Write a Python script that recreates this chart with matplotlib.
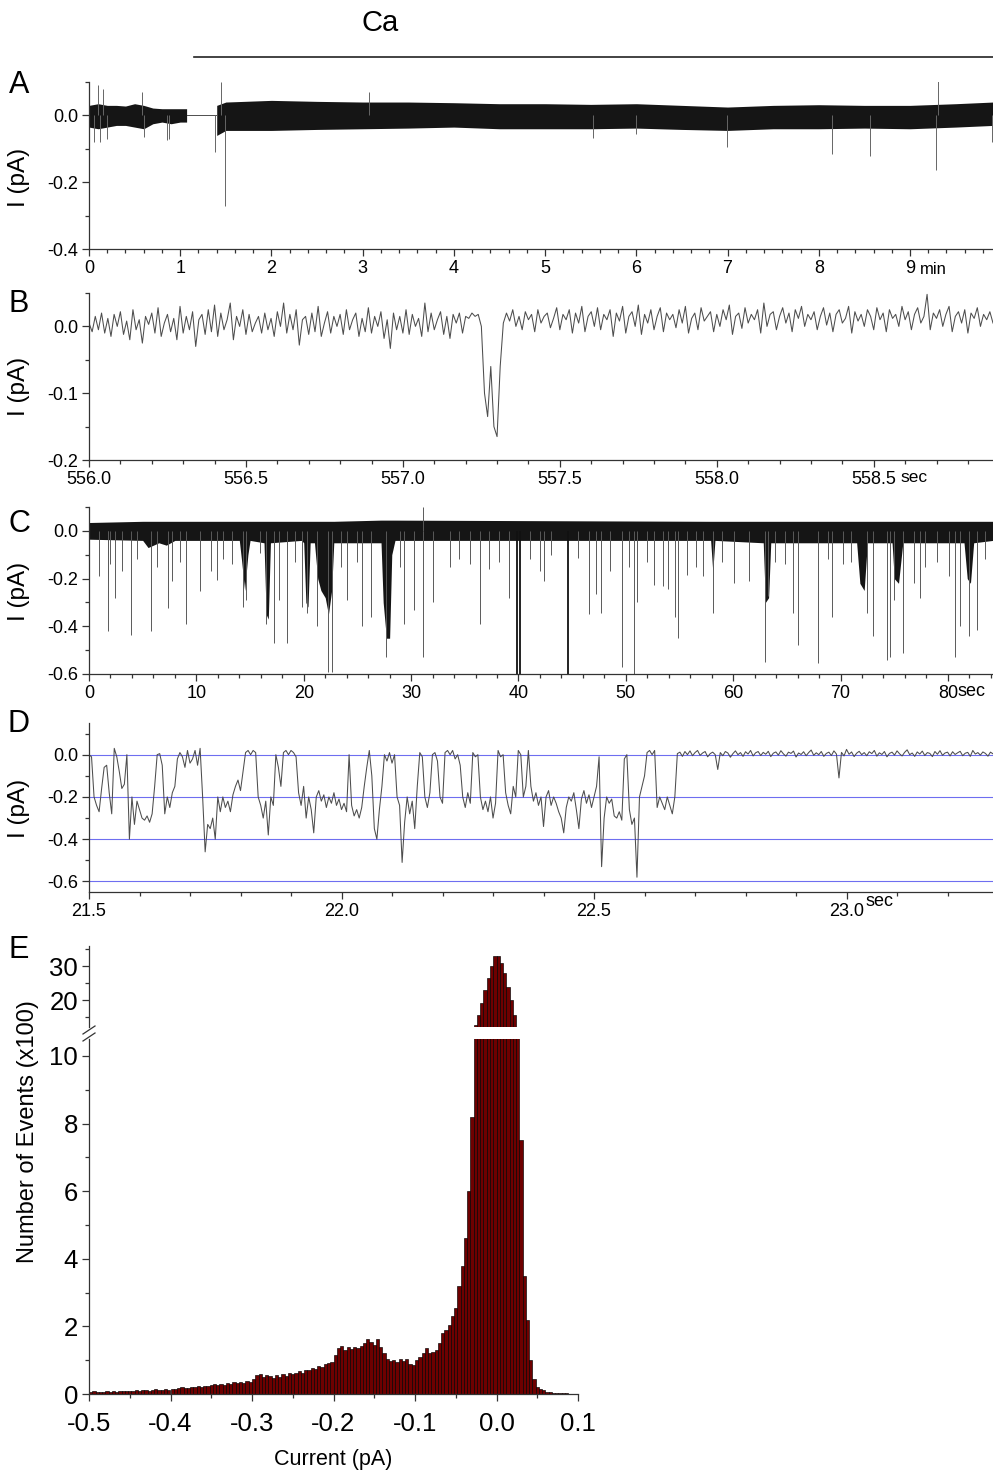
import numpy as np
import matplotlib
matplotlib.use('Agg')
import matplotlib.pyplot as plt
from matplotlib.lines import Line2D
from matplotlib.ticker import MultipleLocator

plt.rcParams['font.family'] = ['Liberation Sans', 'DejaVu Sans']

# ---------------- data ----------------
# A: long recording (min), noise band envelope + isolated spikes (pA)
a_seg1_t = [0, 0.1, 0.2, 0.3, 0.4, 0.5, 0.6, 0.7, 0.8, 0.9, 1.0, 1.07]
a_seg1_up = [0.03, 0.035, 0.03, 0.03, 0.028, 0.035, 0.03, 0.022, 0.02, 0.02, 0.02, 0.02]
a_seg1_lo = [-0.035, -0.04, -0.035, -0.03, -0.03, -0.035, -0.04, -0.025, -0.02, -0.025, -0.02, -0.02]
a_gap_t = [1.07, 1.40]
a_seg2_t = [1.4, 1.5, 2, 2.5, 3, 3.5, 4, 4.5, 5, 5.5, 6, 6.5, 7, 7.5, 8, 8.5, 9, 9.5, 9.91]
a_seg2_up = [0.03, 0.04, 0.045, 0.042, 0.04, 0.04, 0.038, 0.035, 0.035, 0.033, 0.035, 0.03,
             0.025, 0.03, 0.032, 0.03, 0.03, 0.035, 0.04]
a_seg2_lo = [-0.06, -0.045, -0.045, -0.042, -0.04, -0.038, -0.035, -0.04, -0.04, -0.04, -0.038,
             -0.042, -0.045, -0.04, -0.04, -0.038, -0.04, -0.035, -0.03]
a_spike_t = [0.05, 0.1, 0.12, 0.15, 0.2, 0.58, 0.6, 0.85, 0.88, 1.38, 1.45, 1.49, 3.07, 5.53,
             6.0, 6.99, 8.14, 8.56, 9.29, 9.31, 9.9]
a_spike_v = [-0.08, 0.09, -0.08, 0.08, -0.07, 0.07, -0.065, -0.075, -0.07, -0.11, 0.1, -0.27,
             0.07, -0.067, -0.055, -0.095, -0.115, -0.123, -0.164, 0.102, -0.08]

# B: 556.0 - 558.88 s, one sample every 10 ms (units of 0.001 pA)
b_t0, b_dt = 556.0, 0.01
b_vals = [5, -8, 15, -5, 20, -10, 12, -15, 18, 0, 22, -12, 8, -20, 25, -5, 10, -25, 15, 3,
          20, -10, 28, -15, 5, 18, -8, 12, -20, 30, -10, 15, -5, 22, -30, 10, 18, -12, 25, -8,
          32, -15, 20, -5, 10, 35, -20, 15, 0, 25, -12, 18, -8, 5, 15, -10, 20, -5, 12, -15,
          22, 0, 35, -10, 18, -5, 25, -28, 10, 15, -12, 20, -8, 30, -15, 5, 22, -10, 15, 0,
          18, -12, 25, -5, 10, 20, -15, 12, -8, 28, -10, 15, 0, 22, -18, 10, -33, 20, -5, 15,
          -10, 25, -12, 18, 0, 12, -15, 35, -8, 20, -5, 10, 22, -12, 15, -18, 18, 5, 20, -10,
          15, 12, 20, 15, 18,
          0, -100, -135, -60, -150, -165, -60, 5,
          20, 8, 25, 0, 15, -5, 22, 10, 18, -8, 25, 5, 15, 20, -2, 12, 28, -5, 18, 10,
          25, -10, 20, 5, 30, -8, 15, 22, 0, 28, -5, 18, 10, 25, -15, 20, 8, 30, -10, 15,
          22, 0, 32, -12, 18, 5, 25, -5, 15, 28, -8, 20, 10, 18, -2, 25, 5, 30, -10, 12,
          20, -5, 28, 8, 15, 22, -8, 18, 0, 25, 10, 32, -12, 15, 20, -3, 28, 5, 18, 10,
          25, -10, 35, 0, 18, 22, -5, 15, 28, 5, 20, -8, 25, 12, 30, 0, 18, 10, 22, -5,
          15, 28, 2, 20, -8, 18, 25, 5, 12, 30, -10, 22, 8, 18, 0, 25, 15, -5, 28, 10,
          20, -8, 25, 12, 18, 0, 30, 10, 22, -5, 18, 28, 5, 15, 48, -5, 20, 12, 25, 0,
          18, 30, -8, 15, 22, 5, 25, -10, 20, 12, 28, 0, 18, 10, 22, 5]

# C: 0 - 84 s, baseline band envelope + openings (pA)
c_env_t = [0, 5.0, 5.5, 6.5, 7.2, 8.0, 14.0, 14.2, 14.5, 14.8, 15.0, 16.3, 16.5, 16.7, 16.9,
           19.8, 20.0, 20.2, 20.4, 20.6, 21.0, 21.3, 21.6, 22.0, 22.3, 22.6, 22.8, 27.2, 27.4,
           27.7, 28.0, 28.2, 28.5, 57.9, 58.1, 58.3, 62.8, 63.0, 63.3, 63.5, 71.5, 71.8, 72.2,
           72.5, 74.8, 75.0, 75.4, 75.8, 81.5, 81.8, 82.1, 82.4, 84.2]
c_env_up = [0.035, 0.04, 0.04, 0.04, 0.04, 0.04, 0.04, 0.04, 0.04, 0.04, 0.04, 0.04, 0.04,
            0.04, 0.04, 0.04, 0.04, 0.04, 0.04, 0.04, 0.04, 0.04, 0.04, 0.04, 0.04, 0.04,
            0.04, 0.045, 0.045, 0.045, 0.045, 0.045, 0.045, 0.04, 0.04, 0.04, 0.04, 0.04, 0.04,
            0.04, 0.04, 0.04, 0.04, 0.04, 0.04, 0.04, 0.04, 0.04, 0.04, 0.04, 0.04, 0.04, 0.04]
c_env_lo = [-0.035, -0.04, -0.07, -0.05, -0.06, -0.04, -0.04, -0.12, -0.25, -0.1, -0.04, -0.05,
            -0.35, -0.37, -0.05, -0.04, -0.05, -0.3, -0.32, -0.05, -0.05, -0.2, -0.25, -0.28,
            -0.35, -0.25, -0.05, -0.05, -0.3, -0.45, -0.45, -0.1, -0.04, -0.04, -0.17, -0.04,
            -0.05, -0.3, -0.28, -0.05, -0.05, -0.22, -0.25, -0.05, -0.05, -0.2, -0.22, -0.05,
            -0.05, -0.2, -0.22, -0.05, -0.04]
c_spike_t = [0.9, 1.74, 1.8, 2.42, 3.1, 3.9, 5.74, 7.4, 7.7, 9.03, 10.3, 11.35, 11.9, 14.3,
             14.6, 15.9, 16.5, 17.2, 17.7, 18.4, 19.8, 20.3, 21.2, 22.3, 22.6, 24.0, 25.4,
             26.3, 27.7, 29.3, 30.3, 31.1, 32.0, 33.6, 36.4, 37.3, 39.1, 41.1, 42.0, 42.4,
             45.5, 46.6, 47.2, 47.7, 48.5, 49.6, 50.3, 50.75, 51.0, 52.6, 53.5, 53.9, 54.6,
             54.9, 55.7, 57.2, 58.1, 60.1, 61.5, 63.0, 63.2, 63.9, 65.6, 66.0, 67.9, 69.2,
             71.0, 72.5, 73.0, 74.3, 74.6, 75.0, 75.8, 76.8, 77.4, 80.1, 80.7, 81.1, 82.0, 82.7,
             2.0, 4.5, 6.3, 8.5, 12.5, 13.3, 19.2, 23.5, 25.0, 29.0, 34.5, 35.5, 38.2, 43.0,
             52.0, 56.5, 59.0, 64.8, 68.8, 70.2, 77.9, 79.0, 83.5]
c_spike_v = [-0.19, -0.205, -0.42, -0.28, -0.17, -0.435, -0.42, -0.325, -0.21, -0.39, -0.25,
             -0.17, -0.205, -0.32, -0.29, -0.094, -0.39, -0.47, -0.29, -0.47, -0.32, -0.345,
             -0.40, -0.59, -0.59, -0.29, -0.40, -0.36, -0.53, -0.39, -0.33, -0.53, -0.30,
             -0.15, -0.39, -0.16, -0.28, -0.12, -0.17, -0.21, -0.115, -0.35, -0.265, -0.345,
             -0.17, -0.57, -0.15, -0.6, -0.30, -0.225, -0.23, -0.245, -0.36, -0.45, -0.185,
             -0.19, -0.345, -0.22, -0.21, -0.55, -0.275, -0.13, -0.345, -0.48, -0.555, -0.36,
             -0.13, -0.345, -0.44, -0.54, -0.53, -0.29, -0.51, -0.22, -0.28, -0.19, -0.53,
             -0.40, -0.44, -0.415,
             -0.14, -0.12, -0.15, -0.13, -0.12, -0.14, -0.13, -0.15, -0.13, -0.15, -0.12,
             -0.14, -0.13, -0.10, -0.13, -0.15, -0.13, -0.14, -0.12, -0.14, -0.15, -0.13, -0.12]
c_block_t = [39.85, 40.1, 44.65]   # long openings, off scale
c_up_t, c_up_v = [31.1], [0.1]

# D: 21.5 - 23.29 s, one sample every 5 ms (units of 0.001 pA)
d_t0, d_dt = 21.5, 0.005
d_open = [0, -10, -200, -240, -270, -160, -60, -50, -180, -280,
          30, -10, -80, -160, -140, 0, -400, -200, -330, -220,
          -260, -300, -310, -290, -320, -280, -150, 0, 5, -50,
          -280, -200, -250, -180, -150, -20, 10, -10, -60, 20,
          -40, -20, 20, -50, 30, -200, -460, -330, -350, -300,
          -400, -200, -270, -200, -250, -220, -270, -190, -150, -120,
          -170, -80, 10, 20, 0, 20, 10, -200, -240, -300,
          -220, -380, -200, -240, 0, -60, -150, 10, 20, 0,
          20, 10, -10, -180, -240, -150, -300, -200, -260, -370,
          -200, -170, -220, -190, -250, -200, -230, -180, -240, -210,
          -260, -230, -270, 0, -240, -290, -260, -300, -250, -150,
          -60, 20, -100, -350, -400, -260, -150, 0, -30, 10,
          -40, 0, -200, -240, -510, -320, -200, -280, -220, -350,
          -150, 10, -10, -200, -250, -180, 0, 10, -30, -200,
          -230, 10, 20, 0, 20, -20, 0, -50, -200, -250,
          -180, -230, 10, -10, 0, -200, -260, -220, -270, -200,
          -300, -230, 20, -10, 0, -180, -240, -280, -150, -200,
          20, 0, -200, -150, 20, -150, -220, -180, -240, -200,
          -340, -200, -170, -240, -200, -230, -270, -300, -370, -250,
          -200, -220, -180, -260, -350, -210, -170, -230, -190, -250,
          -200, -150, -10, -530, -300, -200, -230, -210, -290, -300,
          -270, -310, -20, 0, -260, -330, -300, -580, -200, -150,
          -100, 10, 20, 0, 20, -250, -200, -230, -260, -200,
          -240, -280, -200]
d_closed = [5, 12, -8, 15, 0, 18, -5, 10, 20, -3, 8, 15, -10, 5, 12, 0, -70, 10, -5, 15,
            8, -12, 5, 18, 0, 10, -8, 14, 3, 20, -6, 9, 15, -4, 11, 2, 16, -9, 7, 13,
            -2, 19, 4, -7, 12, 6, 17, -11, 8, 1, 14, -5, 10, 22, -3, 9, 0, 15, -8, 6,
            12, -4, 18, 3, -110, 11, -6, 25, 2, 13, -9, 7, 16, 0, 10, -5, 14, 5, 20, -7,
            9, 1, 15, -10, 6, 12, -2, 18, 4, -6, 11, 23, 0, 8, -8, 13, 3, 17, -4, 10,
            6, -9, 15, 2, 19, -3, 8, 12, -6, 14, 1, 9, 16, -5, 7, 11, -8, 20, 3, 10,
            -2, 13, 6, -7, 12, 4]
d_levels = [0.0, -0.2, -0.4, -0.6]

# E: all-points histogram, bins 0.004 pA from -0.5 to 0.1 (x100 events)
e_start, e_width = -0.5, 0.004
e_counts = [0.06, 0.08, 0.05, 0.07, 0.06, 0.09, 0.07, 0.08, 0.06, 0.10,
            0.08, 0.09, 0.10, 0.10, 0.12, 0.09, 0.11, 0.13, 0.10, 0.12,
            0.14, 0.11, 0.13, 0.15, 0.12, 0.16, 0.14, 0.18, 0.20, 0.17,
            0.19, 0.22, 0.20, 0.24, 0.21, 0.25, 0.23, 0.27, 0.30, 0.26,
            0.31, 0.28, 0.33, 0.30, 0.35, 0.32, 0.36, 0.33, 0.38, 0.36,
            0.45, 0.55, 0.58, 0.50, 0.56, 0.52, 0.48, 0.55, 0.50, 0.60,
            0.53, 0.62, 0.58, 0.63, 0.68, 0.62, 0.72, 0.70, 0.78, 0.75,
            0.82, 0.80, 0.88, 0.92, 0.95, 1.15, 1.35, 1.42, 1.30, 1.40,
            1.33, 1.38, 1.35, 1.42, 1.50, 1.62, 1.55, 1.45, 1.62, 1.40,
            1.20, 1.05, 0.98, 1.02, 0.95, 1.05, 0.98, 1.03, 0.90, 0.85,
            1.00, 1.10, 1.20, 1.35, 1.20, 1.25, 1.30, 1.50, 1.80, 1.90,
            2.05, 2.30, 2.55, 3.20, 3.80, 4.60, 6.00, 8.20, 12.5, 15.5,
            19.0, 23.0, 26.5, 30.0, 33.0, 33.0, 31.0, 28.0, 24.0, 20.0,
            15.5, 11.0, 7.5, 3.5, 2.2, 1.0, 0.45, 0.20, 0.15, 0.12,
            0.06, 0.05, 0.04, 0.04, 0.03, 0.02, 0.02, 0.01, 0.01, 0.01]

# ---------------- figure ----------------
W, H = 993, 1472
fig = plt.figure(figsize=(W / 100, H / 100), dpi=100)

def fx(x):
    return x / W

def fy(y):
    return 1 - y / H

def add_ax(x0, y0, x1, y1):
    return fig.add_axes([fx(x0), fy(y1), (x1 - x0) / W, (y1 - y0) / H])

spine_col = '#333333'
trace_col = '#4d4d4d'

def style(ax, size=13):
    for s in ['top', 'right']:
        ax.spines[s].set_visible(False)
    for s in ['left', 'bottom']:
        ax.spines[s].set_color(spine_col)
        ax.spines[s].set_linewidth(0.9)
    ax.tick_params(which='major', direction='out', length=5, width=0.9, color=spine_col,
                   labelsize=size, pad=3)
    ax.tick_params(which='minor', direction='out', length=3, width=0.9, color=spine_col)

# ---- A ----
axA = add_ax(89, 82, 993, 249)
axA.fill_between(a_seg1_t, a_seg1_lo, a_seg1_up, color='#151515', lw=0)
axA.plot(a_gap_t, [0, 0], color=trace_col, lw=0.7)
axA.fill_between(a_seg2_t, a_seg2_lo, a_seg2_up, color='#151515', lw=0)
axA.vlines(a_spike_t, 0, a_spike_v, color='#666666', lw=0.7)
axA.set_xlim(0, 9.91)
axA.set_ylim(-0.4, 0.1)
axA.set_xticks(range(10))
axA.set_xticklabels([str(i) for i in range(10)])
axA.xaxis.set_minor_locator(MultipleLocator(0.2))
axA.set_yticks([-0.4, -0.2, 0.0])
axA.set_yticklabels(['-0.4', '-0.2', '0.0'])
axA.yaxis.set_minor_locator(MultipleLocator(0.1))
style(axA)
fig.text(fx(920), fy(270), 'min', fontsize=12, ha='left', va='center')

# Ca bar
fig.add_artist(Line2D([fx(194), fx(993)], [fy(57), fy(57)], color='#222222', lw=1.2))
fig.text(fx(380), fy(23), 'Ca', fontsize=21, ha='center', va='center')

# ---- B ----
axB = add_ax(89, 293, 993, 460)
b_t = b_t0 + np.arange(len(b_vals)) * b_dt
axB.plot(b_t, np.array(b_vals) / 1000, color=trace_col, lw=0.75)
axB.set_xlim(556.0, 558.88)
axB.set_ylim(-0.2, 0.05)
b_ticks = [556.0, 556.5, 557.0, 557.5, 558.0, 558.5]
axB.set_xticks(b_ticks)
axB.set_xticklabels(['%.1f' % v for v in b_ticks])
axB.xaxis.set_minor_locator(MultipleLocator(0.1))
axB.set_yticks([-0.2, -0.1, 0.0])
axB.set_yticklabels(['-0.2', '-0.1', '0.0'])
axB.yaxis.set_minor_locator(MultipleLocator(0.05))
style(axB)
fig.text(fx(900), fy(478), 'sec', fontsize=12.5, ha='left', va='center')

# ---- C ----
axC = add_ax(89, 507, 993, 674)
axC.vlines(c_spike_t, 0, c_spike_v, color='#5a5a5a', lw=0.7)
axC.fill_between(c_env_t, c_env_lo, c_env_up, color='#151515', lw=0)
axC.vlines(c_block_t, 0, -0.6, color='#111111', lw=1.3)
axC.vlines(c_up_t, 0, c_up_v, color='#5a5a5a', lw=0.7)
axC.set_xlim(0, 84.2)
axC.set_ylim(-0.6, 0.1)
axC.set_xticks(range(0, 81, 10))
axC.set_xticklabels([str(v) for v in range(0, 81, 10)])
axC.xaxis.set_minor_locator(MultipleLocator(2))
axC.set_yticks([-0.6, -0.4, -0.2, 0.0])
axC.set_yticklabels(['-0.6', '-0.4', '-0.2', '0.0'])
axC.yaxis.set_minor_locator(MultipleLocator(0.1))
style(axC)
fig.text(fx(957), fy(691), 'sec', fontsize=13, ha='left', va='center')

# ---- D ----
axD = add_ax(89, 723, 993, 892)
for lv in d_levels:
    axD.axhline(lv, color='#6e6ef0', lw=0.8, zorder=1)
d_vals = np.array(d_open + d_closed) / 1000
d_t = d_t0 + np.arange(len(d_vals)) * d_dt
axD.plot(d_t, d_vals, color=trace_col, lw=0.75, zorder=2)
axD.set_xlim(21.5, 23.29)
axD.set_ylim(-0.65, 0.15)
d_ticks = [21.5, 22.0, 22.5, 23.0]
axD.set_xticks(d_ticks)
axD.set_xticklabels(['%.1f' % v for v in d_ticks])
axD.xaxis.set_minor_locator(MultipleLocator(0.1))
axD.set_yticks([-0.6, -0.4, -0.2, 0.0])
axD.set_yticklabels(['-0.6', '-0.4', '-0.2', '0.0'])
axD.yaxis.set_minor_locator(MultipleLocator(0.1))
style(axD)
fig.text(fx(866), fy(902), 'sec', fontsize=13, ha='left', va='center')

# y labels and panel letters
for yc in [177, 386, 591, 808]:
    fig.text(fx(19), fy(yc), 'I (pA)', fontsize=17.5, rotation=90, ha='center', va='center')
for lab, yc in [('A', 85), ('B', 304), ('C', 524), ('D', 724), ('E', 950)]:
    fig.text(fx(19), fy(yc), lab, fontsize=22, ha='center', va='center')

# ---- E (broken axis histogram) ----
e_centers = e_start + e_width / 2 + np.arange(len(e_counts)) * e_width
axE = add_ax(89, 1039, 578, 1394)
axEu = add_ax(89, 946, 578, 1027)
for ax in [axE, axEu]:
    ax.bar(e_centers, e_counts, width=e_width, color='#6e0000', edgecolor='#000000', lw=0.45)
    ax.set_xlim(-0.5, 0.1)
    style(ax, size=18.5)

axE.set_ylim(0, 10.5)
axE.set_yticks(range(0, 11, 2))
axE.set_yticklabels([str(v) for v in range(0, 11, 2)])
axE.yaxis.set_minor_locator(MultipleLocator(1))
e_xt = [-0.5, -0.4, -0.3, -0.2, -0.1, 0.0, 0.1]
axE.set_xticks(e_xt)
axE.set_xticklabels(['%.1f' % v for v in e_xt])
axE.xaxis.set_minor_locator(MultipleLocator(0.05))
axE.tick_params(axis='x', which='major', pad=8)

axEu.set_ylim(12, 36)
axEu.set_yticks([20, 30])
axEu.set_yticklabels(['20', '30'])
axEu.yaxis.set_minor_locator(MultipleLocator(5))
axEu.spines['bottom'].set_visible(False)
axEu.tick_params(axis='x', which='both', bottom=False, labelbottom=False)

# break marks on the y axis
for y0 in [1034, 1041]:
    fig.add_artist(Line2D([fx(83), fx(95)], [fy(y0), fy(y0 - 8)], color=spine_col, lw=0.9))

fig.text(fx(28), fy(1132), 'Number of Events (x100)', fontsize=17, rotation=90,
         ha='center', va='center')
fig.text(fx(333), fy(1460), 'Current (pA)', fontsize=15.5, ha='center', va='center')

fig.savefig('out.png', dpi=100)
